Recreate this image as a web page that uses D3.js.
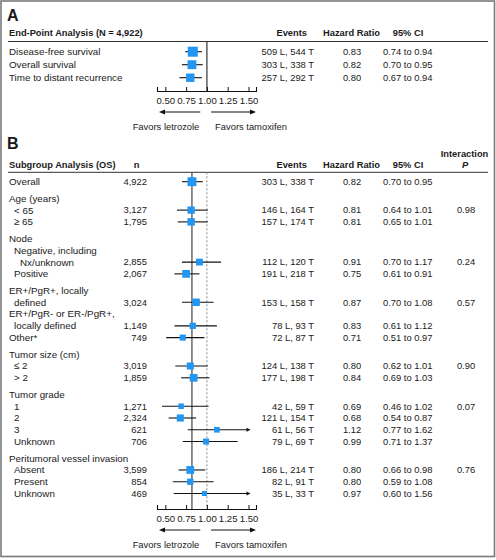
<!DOCTYPE html>
<html><head><meta charset="utf-8">
<script src="https://cdn.jsdelivr.net/npm/d3@7"></script>
<style>
html,body{margin:0;padding:0;background:#fff;}
svg text{font-family:"Liberation Sans",Arial,Helvetica,sans-serif;fill:#1a1a1a;}
</style></head>
<body><svg id="c" width="496" height="560"></svg>
<script>
// ---------- Data ----------
const axisTicks = [0.50, 0.75, 1.00, 1.25, 1.50];
const axisTickLabels = ["0.50", "0.75", "1.00", "1.25", "1.50"];

// Panel A
const endpointLabels = ["Disease-free survival", "Overall survival", "Time to distant recurrence"];
const endpointEvents = ["509 L, 544 T", "303 L, 338 T", "257 L, 292 T"];
const endpointHR = [0.83, 0.82, 0.80];
const endpointLo = [0.74, 0.70, 0.67];
const endpointHi = [0.94, 0.95, 0.94];

// Panel B
const subgroupLabels = [
  ["Overall"], ["Age (years)"], ["< 65"], ["\u2265 65"], ["Node"],
  ["Negative, including", "Nx/unknown"], ["Positive"],
  ["ER+/PgR+, locally", "defined"], ["ER+/PgR- or ER-/PgR+,", "locally defined"],
  ["Other*"], ["Tumor size (cm)"], ["\u2264 2"], ["> 2"], ["Tumor grade"],
  ["1"], ["2"], ["3"], ["Unknown"], ["Peritumoral vessel invasion"],
  ["Absent"], ["Present"], ["Unknown"]
];
const subgroupLevel = [0,0,1,1,0,1,1,0,0,0,0,1,1,0,1,1,1,1,0,1,1,1];
const subgroupGapBefore = [0,1,0,0,1,0,0,1,0,0,1,0,0,1,0,0,0,0,1,0,0,0];
const subgroupN = ["4,922","","3,127","1,795","","2,855","2,067","3,024","1,149","749","","3,019","1,859","","1,271","2,324","621","706","","3,599","854","469"];
const subgroupEvents = ["303 L, 338 T","","146 L, 164 T","157 L, 174 T","","112 L, 120 T","191 L, 218 T","153 L, 158 T","78 L, 93 T","72 L, 87 T","","124 L, 138 T","177 L, 198 T","","42 L, 59 T","121 L, 154 T","61 L, 56 T","79 L, 69 T","","186 L, 214 T","82 L, 91 T","35 L, 33 T"];
const subgroupHR = [0.82,null,0.81,0.81,null,0.91,0.75,0.87,0.83,0.71,null,0.80,0.84,null,0.69,0.68,1.12,0.99,null,0.80,0.80,0.97];
const subgroupLo = [0.70,null,0.64,0.65,null,0.70,0.61,0.70,0.61,0.51,null,0.62,0.69,null,0.46,0.54,0.77,0.71,null,0.66,0.59,0.60];
const subgroupHi = [0.95,null,1.01,1.01,null,1.17,0.91,1.08,1.12,0.97,null,1.01,1.03,null,1.02,0.87,1.62,1.37,null,0.98,1.08,1.56];
const subgroupP = ["","","0.98","","","0.24","","0.57","","","","0.90","","","0.07","","","","","0.76","",""];
const overallHR = 0.82;

// ---------- Layout ----------
const svg = d3.select("#c");
const COLOR = "#2196f3";
const FS = 9.8, FSN = 9.4, FSB = 9.3;
const x = d3.scaleLinear().domain([0.4, 1.59]).range([157, 256]);
const sizeScale = d3.scaleLinear().domain([0, 1]).range([0, 4.9]);
const markSize = (lo, hi) => sizeScale(1 / Math.sqrt(Math.log(hi / lo)));
const col = {label: 9, indent: 5, n: 147, events: 314, hr: 352, ci: 383, p: 466};
const tmax = 1.5;

svg.append("rect").attr("x", 1).attr("y", 1).attr("width", 493.5).attr("height", 555.5)
  .attr("fill", "none").attr("stroke", "#7a7a7a").attr("stroke-width", 1.6);

function txt(g, xx, yy, s, opts = {}) {
  return g.append("text").attr("x", xx).attr("y", yy).attr("dy", "0.35em")
    .attr("text-anchor", opts.anchor || "start")
    .attr("font-size", opts.size || (opts.bold ? FSB : FS))
    .attr("font-weight", opts.bold ? "bold" : null)
    .attr("font-style", opts.italic ? "italic" : null)
    .text(s);
}

function ciMark(g, yy, hr, lo, hi) {
  const hiC = Math.min(hi, tmax);
  g.append("line").attr("x1", x(lo)).attr("x2", x(hiC) + (hi > tmax ? 1 : 0))
    .attr("y1", yy).attr("y2", yy).attr("stroke", "#111").attr("stroke-width", 1.1);
  if (hi > tmax) {
    const xe = x(hiC) + 2;
    g.append("path").attr("d", `M${xe},${yy} L${xe - 4},${yy - 2} L${xe - 4},${yy + 2} Z`).attr("fill", "#111");
  }
  const s = markSize(lo, hi);
  g.append("rect").attr("x", x(hr) - s / 2).attr("y", yy - s / 2)
    .attr("width", s).attr("height", s).attr("fill", COLOR);
}

function drawAxis(yAxis) {
  const ax = d3.axisBottom(x).tickValues(axisTicks)
    .tickFormat((d, i) => axisTickLabels[i]).tickSize(-4).tickSizeOuter(-4).tickPadding(6);
  const g = svg.append("g").attr("transform", `translate(0,${yAxis})`).call(ax);
  g.select(".domain").attr("stroke", "#111").attr("stroke-width", 1.1);
  g.selectAll(".tick line").attr("stroke", "#111");
  g.selectAll(".tick text").attr("font-size", 9.6).attr("fill", "#1a1a1a")
    .attr("font-family", '"Liberation Sans",Arial,sans-serif');
  const ya = yAxis + 21;
  const lx1 = x(0.92), lx2 = x.range()[0] + 2;
  const rx1 = x(1.05), rx2 = x.range()[1];
  svg.append("line").attr("x1", lx1).attr("x2", lx2 + 4).attr("y1", ya).attr("y2", ya).attr("stroke", "#111").attr("stroke-width", 1.2);
  svg.append("path").attr("d", `M${lx2},${ya} L${lx2 + 6},${ya - 2.5} L${lx2 + 6},${ya + 2.5} Z`).attr("fill", "#111");
  svg.append("line").attr("x1", rx1).attr("x2", rx2 - 4).attr("y1", ya).attr("y2", ya).attr("stroke", "#111").attr("stroke-width", 1.2);
  svg.append("path").attr("d", `M${rx2},${ya} L${rx2 - 6},${ya - 2.5} L${rx2 - 6},${ya + 2.5} Z`).attr("fill", "#111");
  txt(svg, 166, yAxis + 36, "Favors letrozole", {anchor: "middle", size: 9.4});
  txt(svg, 251, yAxis + 36, "Favors tamoxifen", {anchor: "middle", size: 9.4});
}

// ---------- Panel A ----------
const gA = svg.append("g");
txt(gA, 7, 15, "A", {bold: true, size: 16});
txt(gA, col.label, 33, "End-Point Analysis (N = 4,922)", {bold: true});
txt(gA, 307, 33, "Events", {bold: true, anchor: "end"});
txt(gA, 351.5, 33, "Hazard Ratio", {bold: true, anchor: "middle"});
txt(gA, 408, 33, "95% CI", {bold: true, anchor: "middle"});
gA.append("line").attr("x1", 8).attr("x2", 488).attr("y1", 41.5).attr("y2", 41.5).attr("stroke", "#333").attr("stroke-width", 1);
const axisA = 91;
gA.append("line").attr("x1", x(1)).attr("x2", x(1)).attr("y1", 41.5).attr("y2", axisA).attr("stroke", "#333").attr("stroke-width", 1.2);
endpointLabels.forEach((lab, i) => {
  const yy = 51.7 + i * 13;
  txt(gA, col.label, yy, lab);
  txt(gA, col.events, yy, endpointEvents[i], {anchor: "end", size: FSN});
  txt(gA, col.hr, yy, endpointHR[i].toFixed(2), {anchor: "middle", size: FSN});
  txt(gA, col.ci, yy, endpointLo[i].toFixed(2) + " to " + endpointHi[i].toFixed(2), {size: FSN});
  ciMark(gA, yy, endpointHR[i], endpointLo[i], endpointHi[i]);
});
drawAxis(axisA);

// ---------- Panel B ----------
const gB = svg.append("g");
txt(gB, 7, 143.5, "B", {bold: true, size: 16});
txt(gB, col.label, 165, "Subgroup Analysis (OS)", {bold: true});
txt(gB, 136.5, 165, "n", {bold: true, anchor: "middle"});
txt(gB, 307, 165, "Events", {bold: true, anchor: "end"});
txt(gB, 351.5, 165, "Hazard Ratio", {bold: true, anchor: "middle"});
txt(gB, 408, 165, "95% CI", {bold: true, anchor: "middle"});
txt(gB, 464.5, 154, "Interaction", {bold: true, anchor: "middle"});
txt(gB, 465, 165, "P", {bold: true, italic: true, anchor: "middle"});
gB.append("line").attr("x1", 8).attr("x2", 488).attr("y1", 172.3).attr("y2", 172.3).attr("stroke", "#333").attr("stroke-width", 1);
const axisB = 509;
gB.append("line").attr("x1", x(1)).attr("x2", x(1)).attr("y1", 172.3).attr("y2", axisB)
  .attr("stroke", "#888").attr("stroke-width", 1).attr("stroke-dasharray", "2,2");
gB.append("line").attr("x1", x(overallHR)).attr("x2", x(overallHR)).attr("y1", 172.3).attr("y2", axisB)
  .attr("stroke", "#444").attr("stroke-width", 1.2);

const LH = 11.78, GAP = 4.85;
let yCur = 181.7 - LH;
subgroupLabels.forEach((lines, i) => {
  yCur += LH + (subgroupGapBefore[i] ? GAP : 0);
  lines.forEach((ln, j) => {
    if (j > 0) yCur += LH;
    const lvl = subgroupLevel[i] + (j > 0 ? 1 : 0);
    txt(gB, col.label + lvl * col.indent + (lvl > 1 ? 1 : 0), yCur, ln);
  });
  if (subgroupHR[i] != null) {
    txt(gB, col.n, yCur, subgroupN[i], {anchor: "end", size: FSN});
    txt(gB, col.events, yCur, subgroupEvents[i], {anchor: "end", size: FSN});
    txt(gB, col.hr, yCur, subgroupHR[i].toFixed(2), {anchor: "middle", size: FSN});
    txt(gB, col.ci, yCur, subgroupLo[i].toFixed(2) + " to " + subgroupHi[i].toFixed(2), {size: FSN});
    if (subgroupP[i]) txt(gB, col.p, yCur, subgroupP[i], {anchor: "middle", size: FSN});
    ciMark(gB, yCur, subgroupHR[i], subgroupLo[i], subgroupHi[i]);
  }
});
drawAxis(axisB);
</script></body></html>
